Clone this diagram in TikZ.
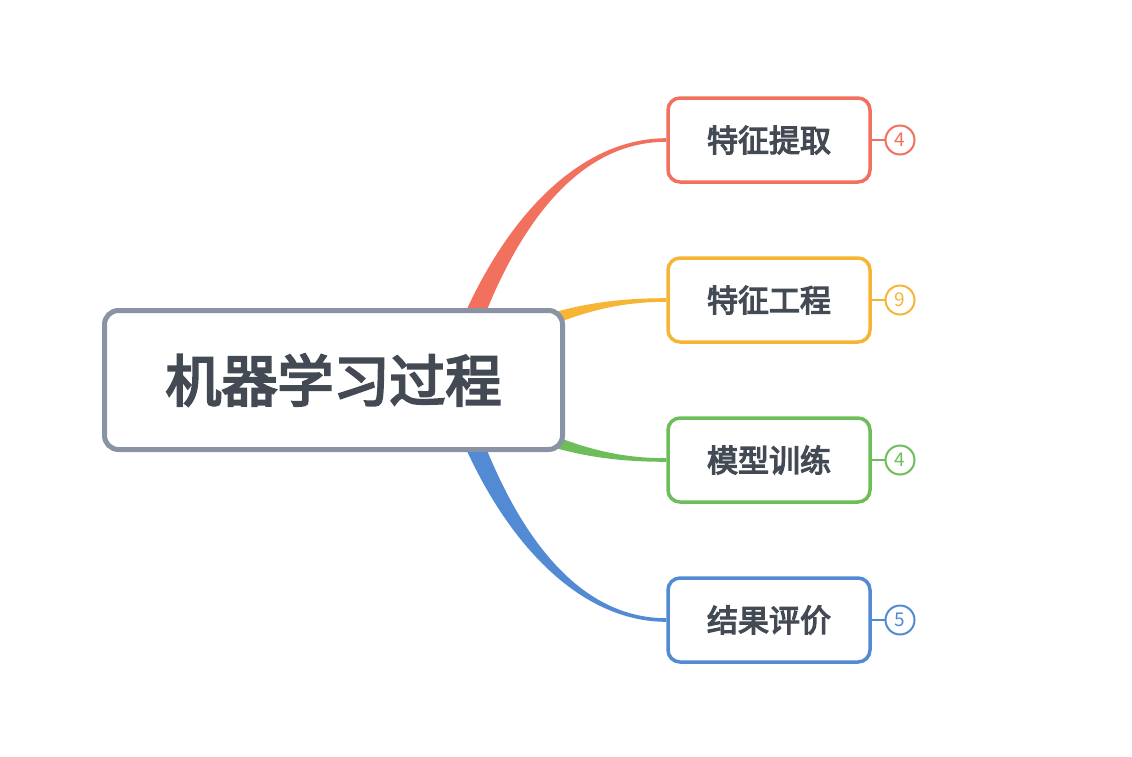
\documentclass[tikz,border=0pt]{standalone}
\usepackage{fontspec}
\newfontfamily\cjk{Noto Sans CJK SC}[FakeBold=4]
\newfontfamily\cjknum{Noto Sans CJK SC}
\usepackage{tikz}
\usetikzlibrary{
  positioning,
  calc
}
\definecolor{rootgray}{HTML}{8A93A4}
\definecolor{textgray}{HTML}{434A54}
\definecolor{redb}{HTML}{F2705E}
\definecolor{yellowb}{HTML}{F6B535}
\definecolor{greenb}{HTML}{6DBE5A}
\definecolor{blueb}{HTML}{528BD3}

% 枝：色, 起点, 制御点1, 制御点2, 終点, 太さ(dx,dy)
\newcommand\branch[7]{%
  \fill[#1] ($(#2)+(#6,#7)$) .. controls ($(#3)+(#6,#7)$) and ($(#4)+(0,1.8)$) .. ($(#5)+(0,1.8)$)
    -- ($(#5)+(0,-1.8)$) .. controls ($(#4)+(0,-1.8)$) and ($(#3)-(#6,#7)$) .. ($(#2)-(#6,#7)$) -- cycle;}

\tikzset{
  rootbox/.style={draw=rootgray,line width=5pt,rounded corners=14pt,fill=white,
    minimum width=458pt,minimum height=139pt,text=textgray,
    font=\cjk\fontsize{56}{60}\selectfont},
  topicbox/.style={draw=#1,line width=3.5pt,rounded corners=12pt,fill=white,
    minimum width=202pt,minimum height=84pt,text=textgray,
    font=\cjk\fontsize{31}{34}\selectfont},
  countdot/.style={draw=#1,line width=2pt,circle,minimum size=29pt,inner sep=0pt,
    fill=white,text=#1,font=\cjknum\fontsize{19}{20}\selectfont},
  countline/.style={draw=#1,line width=2.5pt}
}

\begin{document}
\begin{tikzpicture}[x=1pt,y=-1pt]
  \useasboundingbox (0,0) rectangle (1132,756);

  % 子トピック
  \node[topicbox=redb]    (extract) at (769,140) {特征提取};
  \node[topicbox=yellowb] (engine)  at (769,300) {特征工程};
  \node[topicbox=greenb]  (train)   at (769,460) {模型训练};
  \node[topicbox=blueb]   (eval)    at (769,620) {结果评价};

  % 枝の起点と制御点
  \coordinate (hubA) at (440,420); \coordinate (ctlA) at (480,260);
  \coordinate (hubB) at (480,350); \coordinate (ctlB) at (550,315);
  \coordinate (hubC) at (480,410); \coordinate (ctlC) at (550,445);
  \coordinate (hubD) at (440,340); \coordinate (ctlD) at (480,500);
  \coordinate (endA) at ($(extract.west)+(-106,0)$);
  \coordinate (endB) at ($(engine.west)+(-66,0)$);
  \coordinate (endC) at ($(train.west)+(-66,0)$);
  \coordinate (endD) at ($(eval.west)+(-106,0)$);

  % 枝
  \branch{redb}{hubA}{ctlA}{endA}{extract.west}{10.7}{2.7}
  \branch{yellowb}{hubB}{ctlB}{endB}{engine.west}{3.4}{6.8}
  \branch{greenb}{hubC}{ctlC}{endC}{train.west}{-3.4}{6.8}
  \branch{blueb}{hubD}{ctlD}{endD}{eval.west}{-10.7}{2.7}

  % 中心トピック
  \node[rootbox] (root) at (333.5,380) {机器学习过程};

  % 子の数
  \node[countdot=redb]    (nA) at (900,140) {4};
  \node[countdot=yellowb] (nB) at (900,300) {9};
  \node[countdot=greenb]  (nC) at (900,460) {4};
  \node[countdot=blueb]   (nD) at (900,620) {5};
  \draw[countline=redb]    (extract.east) -- (nA.west);
  \draw[countline=yellowb] (engine.east)  -- (nB.west);
  \draw[countline=greenb]  (train.east)   -- (nC.west);
  \draw[countline=blueb]   (eval.east)    -- (nD.west);
\end{tikzpicture}
\end{document}
